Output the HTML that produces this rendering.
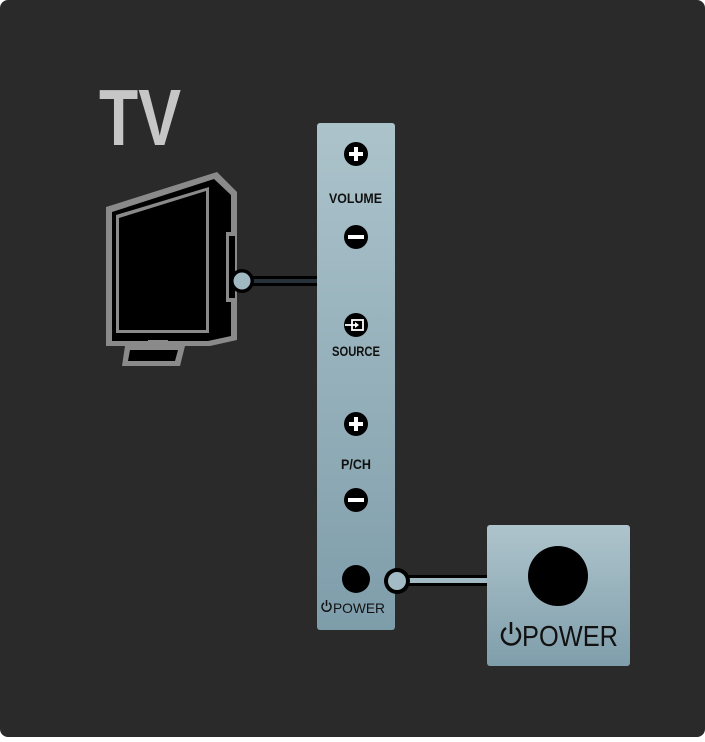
<!DOCTYPE html>
<html><head><style>
html,body{margin:0;padding:0;background:#fff;}
body{width:705px;height:737px;overflow:hidden;}
svg text{font-family:"Liberation Sans",sans-serif;}
</style></head><body>
<svg width="705" height="737" viewBox="0 0 705 737">
<defs>
<linearGradient id="g" x1="0" y1="0" x2="0" y2="1">
<stop offset="0" stop-color="#acc3cb"/><stop offset="1" stop-color="#7e9daa"/></linearGradient>
<linearGradient id="g2" x1="0" y1="0" x2="0" y2="1">
<stop offset="0" stop-color="#aec4cc"/><stop offset="1" stop-color="#7f9eab"/></linearGradient>
</defs>
<rect x="0" y="0" width="705" height="737" rx="8" fill="#2a2a2a"/>
<text x="99" y="145" font-size="80" font-weight="bold" fill="#c6c6c6" textLength="82" lengthAdjust="spacingAndGlyphs">TV</text>
<!-- TV icon -->
<polygon points="106,207 217,172 237,192 237,340 210,346 106,346" fill="#8a8a8a"/>
<polygon points="112,212 214,179 231,195 231,336 208,341 112,341" fill="#000"/>
<polygon points="116,215 209,187 209,333 116,333" fill="#8a8a8a"/>
<polygon points="119,218 206,191 206,330 119,330" fill="#000"/>
<rect x="226" y="232" width="11" height="70" fill="#8a8a8a"/>
<rect x="229" y="236" width="6" height="62" fill="#000"/>
<polygon points="125,346 185,346 180,366 122,366" fill="#8a8a8a"/>
<polygon points="130,350 178,350 175,361 128,361" fill="#000"/>
<rect x="148" y="340" width="20" height="4" fill="#8a8a8a"/>
<!-- TV connector -->
<rect x="240" y="276" width="80" height="10" fill="#000"/>
<rect x="240" y="279" width="80" height="4" fill="#27313a"/>
<circle cx="242" cy="281" r="12" fill="#000"/>
<circle cx="242" cy="281" r="8.5" fill="#9fb8c2"/>
<!-- panel -->
<rect x="317" y="123" width="78" height="507" rx="3" fill="url(#g)"/>
<g fill="#000">
<circle cx="356" cy="154" r="12"/><circle cx="356" cy="237" r="12"/>
<circle cx="356" cy="325" r="12"/><circle cx="356" cy="424" r="12"/>
<circle cx="356" cy="500" r="12"/><circle cx="356" cy="579" r="14"/>
</g>
<g fill="#fff">
<rect x="349" y="152" width="14" height="4"/><rect x="354" y="147" width="4" height="14"/>
<rect x="348" y="235" width="16" height="4"/>
<rect x="349" y="422" width="14" height="4"/><rect x="354" y="417" width="4" height="14"/>
<rect x="348" y="498" width="16" height="4"/>
</g>
<g stroke="#fff" stroke-width="1.8" fill="none">
<rect x="352" y="320" width="11" height="10"/><line x1="345" y1="325" x2="357" y2="325"/>
</g>
<polygon points="355,322 359,325 355,328" fill="#fff"/>
<g font-size="14" font-weight="bold" fill="#111">
<text x="329" y="203" textLength="53" lengthAdjust="spacingAndGlyphs">VOLUME</text>
<text x="332" y="356" textLength="48" lengthAdjust="spacingAndGlyphs">SOURCE</text>
<text x="341" y="469" textLength="30" lengthAdjust="spacingAndGlyphs">P/CH</text>
</g>
<text x="333" y="613" font-size="14" fill="#111" textLength="52" lengthAdjust="spacingAndGlyphs">POWER</text>
<g stroke="#111" stroke-width="1.5" fill="none">
<path d="M324,603 a4.5,4.5 0 1 0 5,0"/><line x1="326.5" y1="600" x2="326.5" y2="606"/>
</g>
<!-- power connector -->
<rect x="395" y="575" width="95" height="11" fill="#000"/>
<rect x="395" y="578" width="95" height="5" fill="#a3bbc4"/>
<circle cx="397" cy="581" r="13" fill="#000"/>
<circle cx="397" cy="581" r="9" fill="#a3bbc4"/>
<!-- power box -->
<rect x="487" y="525" width="143" height="141" rx="3" fill="url(#g2)"/>
<circle cx="558" cy="576" r="30" fill="#000"/>
<text x="522" y="646" font-size="29" fill="#111" textLength="96" lengthAdjust="spacingAndGlyphs">POWER</text>
<g stroke="#111" stroke-width="2.5" fill="none">
<path d="M506,628 a9,9 0 1 0 10,0"/><line x1="511" y1="622" x2="511" y2="634"/>
</g>
</svg>
</body></html>
